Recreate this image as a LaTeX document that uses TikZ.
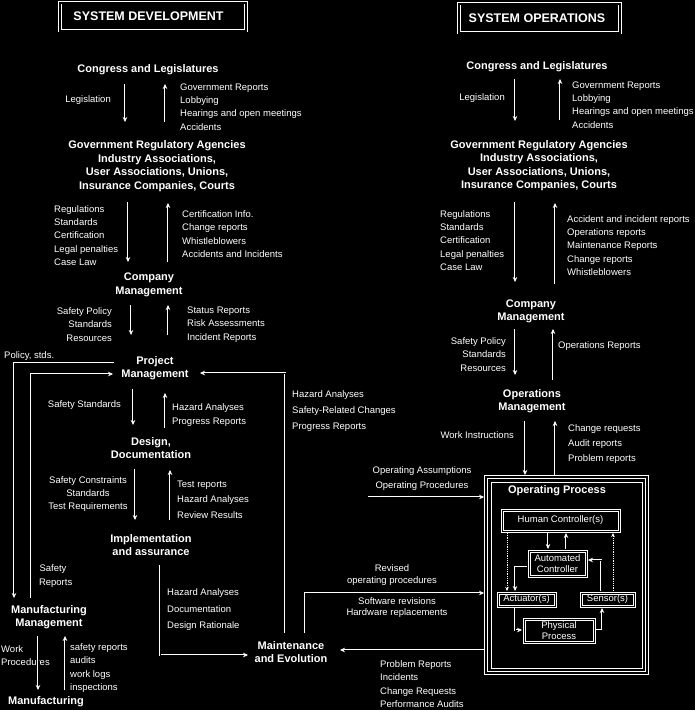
\documentclass[tikz,border=0pt]{standalone}
\usepackage{fontspec}
\setmainfont{Liberation Sans}
\usetikzlibrary{arrows.meta}
\begin{document}
\begin{tikzpicture}[x=1pt,y=-1pt,
  ttl/.style={font=\bfseries\fontsize{11}{13.5}\selectfont, text=white, align=center, inner sep=0pt},
  hdr/.style={font=\bfseries\fontsize{12.5}{14}\selectfont, text=white, draw=white, double=black, line width=0.7pt, double distance=2pt, inner sep=0pt},
  lbl/.style={font=\fontsize{9.5}{13.4}\selectfont, text=white, align=left, inner sep=0pt},
  ln/.style={draw=white, double=black, line width=0.6pt, double distance=1pt},
  arr/.style={ln, -{Stealth[length=5pt,width=4.5pt]}},
  dotarr/.style={draw=white, line width=0.8pt, densely dotted, -{Stealth[length=4pt,width=3.5pt]}},
  bx/.style={text=white, align=center, font=\fontsize{9.5}{11}\selectfont, inner sep=0pt},
  bxl/.style={draw=white, line width=0.6pt}
]
\useasboundingbox (0,0) rectangle (695,710);
\fill[black] (0,0) rectangle (695,710);

% ---------------- headers
\node[hdr, minimum width=186pt, minimum height=28pt] (hdev) at (153,16.5) {};
\node[font=\bfseries\fontsize{12.5}{14}\selectfont, text=white, inner sep=0pt] (hdevt) at (148.5,16) {SYSTEM DEVELOPMENT};
\node[hdr, minimum width=161pt, minimum height=29pt] (hops) at (539.5,18) {};
\node[font=\bfseries\fontsize{12.5}{14}\selectfont, text=white, inner sep=0pt] (hopst) at (537,18) {SYSTEM OPERATIONS};

% ---------------- left column titles
\node[ttl] (congL) at (148,70) {Congress and Legislatures};
\node[ttl] (govL) at (157,166) {Government Regulatory Agencies\\Industry Associations,\\User Associations, Unions,\\Insurance Companies, Courts};
\node[ttl] (compL) at (149,285) {Company\\Management};
\node[ttl] (projL) at (155,368) {Project\\Management};
\node[ttl] (desL) at (151,448) {Design,\\Documentation};
\node[ttl] (implL) at (151,545) {Implementation\\and assurance};
\node[ttl] (maint) at (291,652) {Maintenance\\and Evolution};
\node[ttl] (mfgm) at (49,617) {Manufacturing\\Management};
\node[ttl] (mfg) at (46,702) {Manufacturing};

% ---------------- right column titles
\node[ttl] (congR) at (537,67) {Congress and Legislatures};
\node[ttl] (govR) at (539,165.5) {Government Regulatory Agencies\\Industry Associations,\\User Associations, Unions,\\Insurance Companies, Courts};
\node[ttl] (compR) at (531,311.5) {Company\\Management};
\node[ttl] (opsR) at (532,401) {Operations\\Management};

% ---------------- left labels
\node[lbl, anchor=east] (lgL) at (111,100) {Legislation};
\node[lbl, anchor=west] (grL) at (180,107) {Government Reports\\Lobbying\\Hearings and open meetings\\Accidents};
\node[lbl, anchor=west] (regL) at (54,235.5) {Regulations\\Standards\\Certification\\Legal penalties\\Case Law};
\node[lbl, anchor=west] (ciL) at (182,234) {Certification Info.\\Change reports\\Whistleblowers\\Accidents and Incidents};
\node[lbl, anchor=east, align=right] (spL) at (112,324.5) {Safety Policy\\Standards\\Resources};
\node[lbl, anchor=west] (srL) at (187,324.5) {Status Reports\\Risk Assessments\\Incident Reports};
\node[lbl, anchor=west] (pstd) at (4,356) {Policy, stds.};
\node[lbl, anchor=east] (ssL) at (121,405) {Safety Standards};
\node[lbl, anchor=west] (haL) at (172,415) {Hazard Analyses\\Progress Reports};
\node[lbl, align=center] (scL) at (88,494) {Safety Constraints\\Standards\\Test Requirements};
\node[lbl, anchor=west, font=\fontsize{9.5}{15.5}\selectfont] (trL) at (177,499.5) {Test reports\\Hazard Analyses\\Review Results};
\node[lbl, anchor=west, font=\fontsize{9.5}{16}\selectfont] (hsL) at (292,411) {Hazard Analyses\\Safety-Related Changes\\Progress Reports};
\node[lbl, align=center] (safrep) at (53,576) {Safety\\\ \ Reports};
\node[lbl, anchor=west, font=\fontsize{9.5}{16.5}\selectfont] (hdL) at (167,610) {Hazard Analyses\\Documentation\\Design Rationale};
\node[lbl, anchor=west] (wp) at (1,655.5) {Work\\Procedures};
\node[lbl, anchor=west] (sra) at (70,668) {safety reports\\audits\\work logs\\inspections};
\node[lbl, align=center, font=\fontsize{9.5}{11.5}\selectfont] (rop) at (392,575) {Revised\\operating procedures};
\node[lbl, align=center, font=\fontsize{9.5}{11.5}\selectfont] (swr) at (397,607.5) {Software revisions\\Hardware replacements};
\node[lbl, anchor=west] (prr) at (380,684) {Problem Reports\\Incidents\\Change Requests\\Performance Audits};

% ---------------- right labels
\node[lbl, anchor=east] (lgR) at (505,98) {Legislation};
\node[lbl, anchor=west] (grR) at (572,105) {Government Reports\\Lobbying\\Hearings and open meetings\\Accidents};
\node[lbl, anchor=west] (regR) at (440,240.5) {Regulations\\Standards\\Certification\\Legal penalties\\Case Law};
\node[lbl, anchor=west] (aiR) at (567,245.5) {Accident and incident reports\\Operations reports\\Maintenance Reports\\Change reports\\Whistleblowers};
\node[lbl, anchor=east, align=right] (spR) at (506,354.5) {Safety Policy\\Standards\\Resources};
\node[lbl, anchor=west] (orR) at (558,346) {Operations Reports};
\node[lbl, anchor=east] (wiR) at (514,435) {Work Instructions};
\node[lbl, anchor=west, font=\fontsize{9.5}{15}\selectfont] (crR) at (568,444) {Change requests\\Audit reports\\Problem reports};
\node[lbl, align=center, font=\fontsize{9.5}{14.5}\selectfont] (oaR) at (422,478.5) {Operating Assumptions\\Operating Procedures};

% ---------------- operating process
\node[inner sep=0pt, minimum width=163pt, minimum height=198pt] (op) at (566.5,575) {};
\draw[bxl, line width=0.7pt] (op.north west) rectangle (op.south east);
\draw[bxl, line width=0.7pt] ([shift={(2.6,2.6)}]op.north west) rectangle ([shift={(-2.6,-2.6)}]op.south east);
\draw[bxl] ([shift={(6,6)}]op.north west) rectangle ([shift={(-6,-6)}]op.south east);
\node[ttl] (opt) at (557,491) {Operating Process};
\node[bx, minimum width=119pt, minimum height=23pt] (hc) at (560.5,520.5) {Human Controller(s)};
\node[bx, minimum width=59pt, minimum height=27pt] (ac) at (557.5,563.5) {Automated\\Controller};
\node[bx, minimum width=59pt, minimum height=15pt] (act) at (526.5,599.5) {Actuator(s)};
\node[bx, minimum width=55pt, minimum height=15pt] (sen) at (607.5,599.5) {Sensor(s)};
\node[bx, minimum width=72pt, minimum height=25pt] (pp) at (559,630.5) {Physical\\Process};
\foreach \b in {hc,ac,act,sen,pp}{
  \draw[bxl] (\b.north west) rectangle (\b.south east);
  \draw[bxl] ([shift={(2,2)}]\b.north west) rectangle ([shift={(-2,-2)}]\b.south east);
}

% inner connectors
\draw[arr] (548,533) -- (548,549);
\draw[arr] (566,549) -- (566,533);
\draw[dotarr] (507,533) -- (507,591);
\draw[dotarr] (613,591) -- (613,533);
\draw[arr] (527,567) -- (515,567) -- (515,591);
\draw[arr] (601,591) -- (601,560) -- (588,560);
\draw[arr] (515,608) -- (515,630) -- (522,630);
\draw[arr] (596,630) -- (602,630) -- (602,608);

% ---------------- left vertical arrows
\draw[arr] (125,84) -- (125,122);
\draw[arr] (165,122) -- (165,84);
\draw[arr] (128,202) -- (128,262);
\draw[arr] (168,262) -- (168,203);
\draw[arr] (131,305) -- (131,335);
\draw[arr] (168,335) -- (168,305);
\draw[arr] (133,389) -- (133,425);
\draw[arr] (165,428) -- (165,393);
\draw[arr] (135,469) -- (135,520);
\draw[arr] (170,520) -- (170,470);
\draw[arr] (38,636) -- (38,690);
\draw[arr] (65,690) -- (65,636);

% left loops
\draw[arr] (114,363) -- (14,363) -- (14,598);
\draw[arr] (31,598) -- (31,374) -- (113,374);
\draw[arr] (285,633) -- (285,373) -- (200,373);
\draw[arr] (160,565) -- (160,655) -- (248,655);
\draw[arr] (305,633) -- (305,593) -- (484,593);
\draw[arr] (484,650) -- (340,650);
\draw[arr] (368,497) -- (484,497);

% ---------------- right vertical arrows
\draw[arr] (515,79) -- (515,121);
\draw[arr] (560,120) -- (560,79);
\draw[arr] (515,202) -- (515,282);
\draw[arr] (555,284) -- (555,203);
\draw[arr] (515,329) -- (515,375);
\draw[arr] (553,380) -- (553,329);
\draw[arr] (525,421) -- (525,475);
\draw[arr] (555,475) -- (555,421);
\end{tikzpicture}
\end{document}
